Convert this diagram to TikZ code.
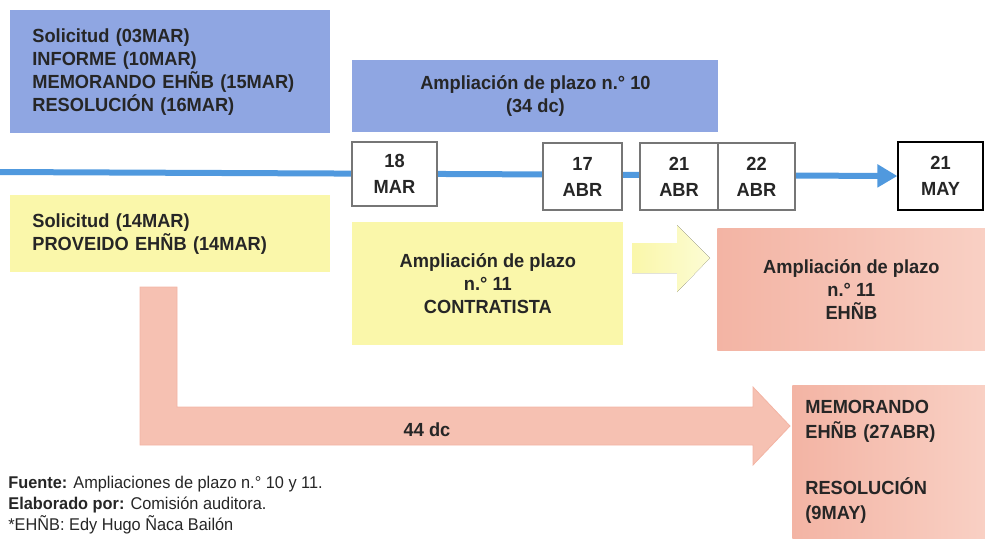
\documentclass[tikz,border=0pt]{standalone}
\usepackage{fontspec}
\setmainfont{Liberation Sans}[FakeStretch=0.96]
\usetikzlibrary{calc,arrows.meta,backgrounds}

\definecolor{planblue}{RGB}{143,166,226}
\definecolor{lineblue}{RGB}{80,153,222}
\definecolor{planyellow}{RGB}{250,247,170}
\definecolor{paleyellow}{RGB}{252,252,212}
\definecolor{salmon}{RGB}{243,180,164}
\definecolor{palesalmon}{RGB}{249,208,196}
\definecolor{barsalmon}{RGB}{246,193,178}
\definecolor{dategray}{RGB}{118,118,118}
\definecolor{ink}{RGB}{38,38,38}

\begin{document}
\begin{tikzpicture}[x=0.5pt,y=-0.5pt,
  every node/.style={inner sep=0pt,text=ink,
    font=\bfseries\fontsize{9.5}{11.5}\selectfont},
  boxsize/.style 2 args={minimum width=#1*0.5pt,minimum height=#2*0.5pt},
  bluebox/.style={fill=planblue,align=center},
  yellowbox/.style={fill=planyellow,align=center},
  pinkbox/.style={left color=salmon,right color=palesalmon,align=center},
  listbox/.style={align=left,text width=138pt,inner xsep=11pt},
  datebox/.style={draw=dategray,line width=0.6pt,fill=white,align=center,
    font=\bfseries\fontsize{9.5}{13}\selectfont},
  ]
  \useasboundingbox (0,0) rectangle (985,538);

  % upper row: plazo n.° 10
  \node[bluebox,listbox,boxsize={320}{123},anchor=north west] (req10) at (10,10)
    {Solicitud (03MAR)\\INFORME (10MAR)\\MEMORANDO EHÑB (15MAR)\\RESOLUCIÓN (16MAR)};
  \node[bluebox,boxsize={366}{72},anchor=north west] (amp10) at (352,60)
    {Ampliación de plazo n.° 10\\(34 dc)};

  % dates on the time line
  \node[datebox,boxsize={85}{64}] (d18mar) at (394.5,174) {18\\MAR};
  \node[datebox,boxsize={79}{67}] (d17abr) at (582.5,176.5) {17\\ABR};
  \node[datebox,boxsize={78}{67}] (d21abr) at (679,176.5) {21\\ABR};
  \node[datebox,boxsize={77}{67}] (d22abr) at (756.5,176.5) {22\\ABR};
  \node[datebox,draw=black,boxsize={85}{68}] (d21may) at (940.5,176) {21\\MAY};

  \coordinate (tlstart) at (0,172);
  \begin{scope}[on background layer]
    \draw[lineblue,line width=3pt,-{Triangle[length=10pt,width=11pt]}]
      (tlstart) -- (d21may.west);
  \end{scope}

  % lower row: plazo n.° 11
  \node[yellowbox,listbox,boxsize={320}{77},anchor=north west] (req11) at (10,195)
    {Solicitud (14MAR)\\PROVEIDO EHÑB (14MAR)};
  \node[yellowbox,boxsize={271}{123},anchor=north west] (amp11c) at (352,222)
    {Ampliación de plazo\\n.° 11\\CONTRATISTA};
  \node[pinkbox,boxsize={268}{122},anchor=north west] (amp11e) at (717,228)
    {Ampliación de plazo\\n.° 11\\EHÑB};
  \node[pinkbox,boxsize={193}{153},anchor=north west,align=left,
    text width=83.5pt,inner xsep=6.5pt,
    font=\bfseries\fontsize{9.5}{12.5}\selectfont] (memo) at (792,385)
    {MEMORANDO\\EHÑB (27ABR)\\[15.5pt]RESOLUCIÓN\\(9MAY)};

  % block arrows
  \fill[left color=planyellow,right color=paleyellow]
    (632,243) -- (677,243) -- (677,225) -- (710,258)
    -- (677,292) -- (677,273) -- (632,273) -- cycle;
  \filldraw[fill=barsalmon,draw=salmon,line width=0.4pt]
    (140,287) -- (177,287) -- (177,407) -- (753,407) -- (753,387)
    -- (790,426) -- (753,465) -- (753,445) -- (140,445) -- cycle;
  \node (dias) at (427,430) {44 dc};

  % source
  \node[anchor=north west,align=left,font=\fontsize{8.5}{10.5}\selectfont] (fuente) at (8,476)
    {\textbf{Fuente:} Ampliaciones de plazo n.° 10 y 11.\\
     \textbf{Elaborado por:} Comisión auditora.\\
     *EHÑB: Edy Hugo Ñaca Bailón};
\end{tikzpicture}
\end{document}
